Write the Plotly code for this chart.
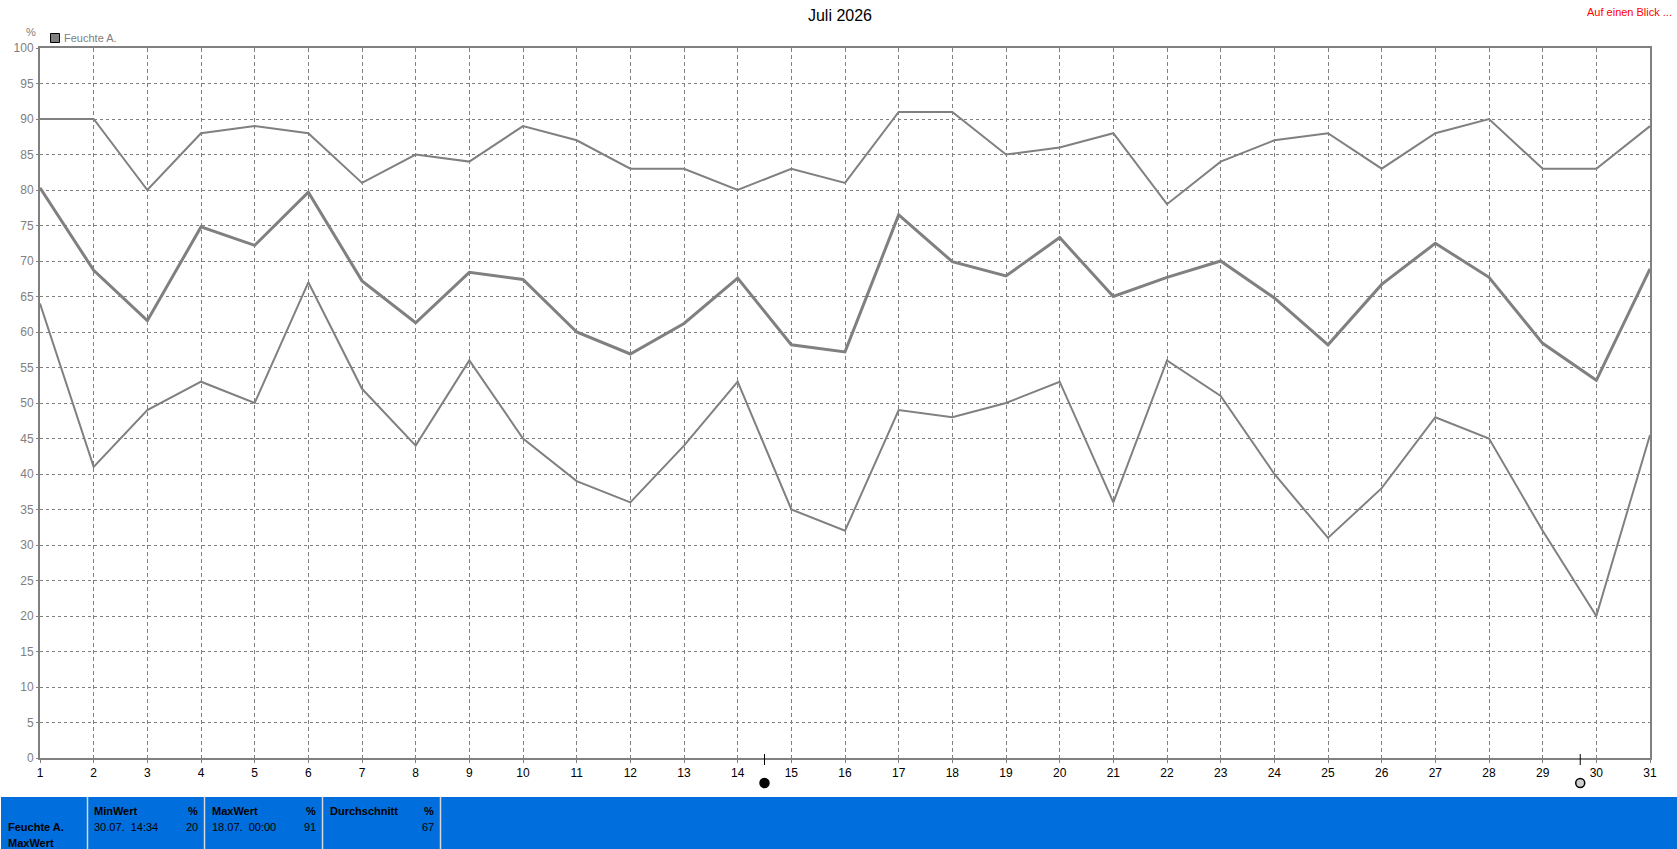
import plotly.graph_objects as go

days = list(range(1, 32))
feuchte_max = [90, 90, 80, 88, 89, 88, 81, 85, 84, 89, 87, 83, 83, 80, 83, 81,
               91, 91, 85, 86, 88, 78, 84, 87, 88, 83, 88, 90, 83, 83, 89]
feuchte_avg = [80.3, 68.7, 61.6, 74.8, 72.2, 79.7, 67.2, 61.3, 68.4, 67.4, 60, 56.9, 61.2, 67.6, 58.2, 57.2,
               76.5, 69.9, 67.9, 73.3, 65, 67.7, 70, 64.8, 58.2, 66.7, 72.5, 67.7, 58.4, 53.2, 68.9]
feuchte_min = [64, 41, 49, 53, 50, 67, 52, 44, 56, 45, 39, 36, 44, 53, 35, 32,
               49, 48, 50, 53, 36, 56, 51, 40, 31, 38, 48, 45, 32, 20, 45.5]
moon_days = [14.5, 29.7]
moon_colors = ["#000000", "#d0d0d0"]

GREY = "#808080"
BLUE = "#006edc"
FONT = "Liberation Sans"
W, H = 1677, 849
L, R, T, B = 40, 1650, 48, 758


def px(x):
    return (x - L) / (R - L)


def py(y):
    return (B - y) / (B - T)


def label(x, y, text, color="#000000", size=11, bold=False, anchor="left"):
    # annotations carry a little padding, pull the text back onto the wanted pixel
    x = x - 2 if anchor == "left" else x + 2
    return dict(x=px(x), y=py(y), xref="paper", yref="paper", text="<b>%s</b>" % text if bold else text,
                showarrow=False, xanchor=anchor, yanchor="middle", align=anchor,
                font=dict(family=FONT, size=size, color=color))


fig = go.Figure()
for values, width in [(feuchte_max, 2), (feuchte_avg, 3), (feuchte_min, 2)]:
    fig.add_trace(go.Scatter(x=days, y=values, mode="lines", line=dict(color=GREY, width=width),
                             showlegend=False, cliponaxis=False))

# blue summary strip
shapes = [dict(type="rect", xref="paper", yref="paper", x0=px(1), x1=px(W), y0=py(797), y1=py(H),
               fillcolor=BLUE, line=dict(width=0), layer="below")]
for sep in [87.5, 204.5, 322.5, 440.5]:
    shapes.append(dict(type="line", xref="paper", yref="paper", x0=px(sep), x1=px(sep), y0=py(797), y1=py(H),
                       line=dict(color="#d8d8d8", width=1.5)))
# legend swatch
shapes.append(dict(type="rect", xref="paper", yref="paper", x0=px(50.5), x1=px(59.5), y0=py(42.5), y1=py(33.5),
                   fillcolor=GREY, line=dict(color="#000000", width=1)))
# moon phase ticks and symbols below the axis
for day, color in zip(moon_days, moon_colors):
    shapes.append(dict(type="line", xref="x", yref="paper", x0=day, x1=day, y0=py(754), y1=py(765),
                       line=dict(color="#000000", width=1)))
    shapes.append(dict(type="circle", xref="x", yref="paper", xsizemode="pixel", xanchor=day,
                       x0=-4.5, x1=4.5, y0=py(778.5), y1=py(787.5),
                       fillcolor=color, line=dict(color="#000000", width=1.5)))

annotations = [
    label(64, 38, "Feuchte A.", GREY),
    label(26, 32, "%", GREY),
    label(1672, 12, "Auf einen Blick ...", "#ff0000", size=11, anchor="right"),
    label(8, 827, "Feuchte A.", bold=True),
    label(8, 843, "MaxWert", bold=True),
    label(94, 811, "MinWert", bold=True),
    label(198, 811, "%", bold=True, anchor="right"),
    label(94, 827, "30.07.  14:34"),
    label(198, 827, "20", anchor="right"),
    label(212, 811, "MaxWert", bold=True),
    label(316, 811, "%", bold=True, anchor="right"),
    label(212, 827, "18.07.  00:00"),
    label(316, 827, "91", anchor="right"),
    label(330, 811, "Durchschnitt", bold=True),
    label(434, 811, "%", bold=True, anchor="right"),
    label(434, 827, "67", anchor="right"),
]

fig.update_layout(
    width=W, height=H, margin=dict(l=L, r=W - R, t=T, b=H - B),
    paper_bgcolor="#ffffff", plot_bgcolor="#ffffff", showlegend=False,
    font=dict(family=FONT),
    title=dict(text="Juli 2026", x=840 / W, xanchor="center", y=1 - 15 / H, yanchor="middle",
               font=dict(family=FONT, size=16, color="#000000")),
    shapes=shapes, annotations=annotations,
)
fig.update_xaxes(range=[1, 31], tickmode="linear", tick0=1, dtick=1, showgrid=True, gridcolor=GREY, gridwidth=1,
                 griddash="4px,3px", zeroline=False, showline=True, linecolor=GREY, linewidth=2, mirror=True,
                 ticks="outside", ticklen=3, tickcolor=GREY, tickfont=dict(size=12, color="#000000"))
fig.update_yaxes(range=[0, 100], tickmode="linear", tick0=0, dtick=5, showgrid=True, gridcolor=GREY, gridwidth=1,
                 griddash="3px,3px", zeroline=False, showline=True, linecolor=GREY, linewidth=2, mirror=True,
                 ticks="outside", ticklen=2, tickcolor=GREY, tickfont=dict(size=12, color=GREY))

fig.write_html("out.html", config=dict(displayModeBar=False), post_script="document.body.style.margin='0';")
